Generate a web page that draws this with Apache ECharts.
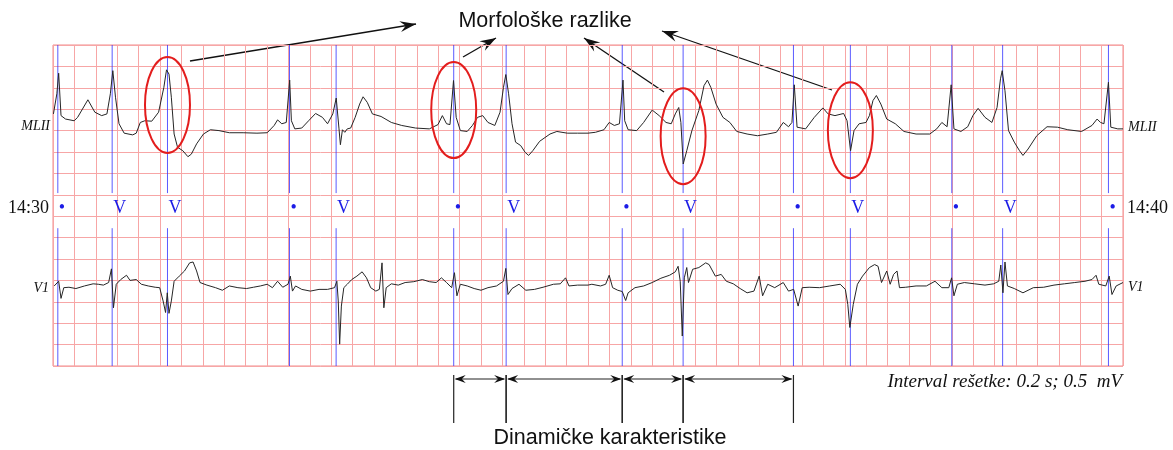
<!DOCTYPE html>
<html lang="hr">
<head>
    <meta charset="UTF-8">
    <title>ekg_morfologija</title>
    <style type="text/css">
        html, body { margin: 0; padding: 0; background: #fff; }
        #box { width: 1173px; height: 450px; }
    </style>
</head>
<body>
<div id="box"></div>
<script type="text/javascript" src="https://cdn.jsdelivr.net/npm/echarts@6/dist/echarts.min.js"></script>
<script type="text/javascript">
    // vrijeme u s, amplituda u mV (odvod MLII)
    let mliiT = [0.004, 0.036, 0.053, 0.075, 0.117, 0.198, 0.230, 0.326, 0.391, 0.455, 0.504, 0.536, 0.559, 0.584, 0.617, 0.665,
        0.745, 0.778, 0.816, 0.858, 0.923, 0.987, 1.036, 1.061, 1.084, 1.106, 1.132, 1.164, 1.213, 1.261, 1.293, 1.342,
        1.406, 1.471, 1.551, 1.648, 1.777, 1.906, 2.002, 2.067, 2.099, 2.138, 2.180, 2.212, 2.228, 2.260, 2.325, 2.389,
        2.454, 2.518, 2.566, 2.615, 2.647, 2.673, 2.686, 2.705, 2.727, 2.750, 2.782, 2.824, 2.866, 2.898, 2.937, 2.985,
        3.066, 3.162, 3.259, 3.388, 3.517, 3.598, 3.639, 3.678, 3.710, 3.743, 3.768, 3.807, 3.871, 3.920, 3.968, 4.016,
        4.065, 4.129, 4.178, 4.210, 4.232, 4.258, 4.290, 4.323, 4.371, 4.413, 4.445, 4.484, 4.548, 4.645, 4.709, 4.806,
        4.903, 5.000, 5.069, 5.149, 5.198, 5.246, 5.294, 5.327, 5.343, 5.375, 5.455, 5.520, 5.600, 5.665, 5.729, 5.778,
        5.816, 5.848, 5.868, 5.890, 5.923, 5.971, 6.036, 6.084, 6.116, 6.148, 6.197, 6.261, 6.326, 6.390, 6.487, 6.584,
        6.680, 6.761, 6.825, 6.874, 6.906, 6.928, 6.954, 7.034, 7.115, 7.195, 7.244, 7.308, 7.389, 7.421, 7.454, 7.486,
        7.534, 7.598, 7.630, 7.663, 7.695, 7.737, 7.792, 7.872, 7.953, 8.066, 8.194, 8.259, 8.307, 8.356, 8.394, 8.420,
        8.485, 8.549, 8.597, 8.646, 8.710, 8.775, 8.823, 8.855, 8.871, 8.897, 8.930, 8.984, 9.033, 9.065, 9.113, 9.194,
        9.290, 9.387, 9.484, 9.613, 9.710, 9.758, 9.790, 9.822, 9.864, 9.886, 9.951, 10.0];
    let mliiV = [0.39, 0.86, 1.34, 0.35, 0.27, 0.23, 0.31, 0.72, 0.43, 0.35, 0.39, 0.86, 1.40, 0.78, 0.16, -0.06,
        -0.10, -0.06, 0.19, 0.23, 0.22, 0.43, 1.01, 1.42, 1.32, 0.78, -0.08, -0.39, -0.47, -0.61, -0.55, -0.31,
        -0.08, 0.02, 0.00, -0.05, -0.05, -0.06, -0.05, 0.12, 0.25, 0.16, 0.19, 1.18, 0.23, 0.04, 0.06, 0.23,
        0.40, 0.31, 0.16, 0.39, 0.76, 0.04, -0.33, 0.02, -0.04, 0.04, 0.06, 0.31, 0.62, 0.79, 0.66, 0.39,
        0.33, 0.19, 0.12, 0.06, 0.04, 0.14, 0.35, 0.16, 0.14, 1.17, 0.31, 0.00, -0.02, 0.12, 0.31, 0.35,
        0.19, 0.12, 0.43, 1.01, 1.31, 0.86, 0.16, -0.27, -0.35, -0.51, -0.58, -0.47, -0.25, -0.08, -0.02, -0.06,
        -0.06, -0.06, -0.04, 0.02, 0.19, 0.12, 0.16, 1.18, 0.23, 0.02, 0.00, 0.19, 0.48, 0.35, 0.19, 0.16,
        0.39, 0.54, 0.19, -0.78, -0.47, 0.00, 0.47, 1.05, 1.18, 1.01, 0.62, 0.31, 0.19, -0.02, -0.08, -0.12,
        -0.08, -0.04, 0.19, 0.09, 0.19, 1.07, 0.08, 0.04, 0.31, 0.53, 0.39, 0.35, 0.40, 0.23, -0.47, 0.00,
        0.16, 0.19, 0.35, 0.70, 0.82, 0.62, 0.27, 0.16, -0.02, -0.08, -0.08, 0.04, 0.19, 0.09, 1.07, 0.04,
        -0.02, 0.09, 0.35, 0.52, 0.31, 0.19, 0.54, 1.21, 1.40, 0.93, 0.00, -0.27, -0.47, -0.58, -0.43, -0.12,
        0.09, 0.08, 0.02, -0.02, 0.12, 0.27, 0.19, 0.16, 1.13, 0.08, 0.04, 0.04];

    // odvod V1
    let v1T = [0.011, 0.053, 0.075, 0.101, 0.149, 0.214, 0.294, 0.375, 0.423, 0.471, 0.520, 0.546, 0.565, 0.591, 0.633, 0.687,
        0.720, 0.778, 0.826, 0.890, 0.955, 0.997, 1.029, 1.052, 1.068, 1.084, 1.106, 1.132, 1.180, 1.229, 1.277, 1.309,
        1.342, 1.374, 1.438, 1.519, 1.583, 1.648, 1.728, 1.809, 1.873, 1.938, 2.002, 2.051, 2.099, 2.147, 2.196, 2.218,
        2.238, 2.267, 2.325, 2.405, 2.486, 2.566, 2.631, 2.653, 2.666, 2.679, 2.695, 2.718, 2.750, 2.792, 2.840, 2.889,
        2.930, 2.969, 3.017, 3.050, 3.075, 3.092, 3.114, 3.162, 3.227, 3.291, 3.372, 3.452, 3.517, 3.581, 3.630, 3.678,
        3.726, 3.752, 3.775, 3.807, 3.871, 3.936, 4.000, 4.065, 4.145, 4.210, 4.232, 4.252, 4.290, 4.355, 4.419, 4.500,
        4.580, 4.677, 4.741, 4.790, 4.822, 4.903, 5.000, 5.036, 5.117, 5.165, 5.198, 5.230, 5.278, 5.320, 5.352, 5.375,
        5.439, 5.520, 5.600, 5.681, 5.762, 5.816, 5.842, 5.862, 5.881, 5.900, 5.923, 5.939, 5.978, 6.036, 6.100, 6.132,
        6.190, 6.245, 6.293, 6.358, 6.422, 6.487, 6.551, 6.600, 6.632, 6.680, 6.745, 6.825, 6.874, 6.922, 6.964, 7.002,
        7.067, 7.163, 7.260, 7.357, 7.405, 7.428, 7.447, 7.479, 7.518, 7.566, 7.630, 7.679, 7.711, 7.743, 7.792, 7.824,
        7.856, 7.888, 7.911, 7.969, 8.066, 8.162, 8.243, 8.307, 8.372, 8.398, 8.420, 8.452, 8.517, 8.613, 8.710, 8.791,
        8.839, 8.858, 8.878, 8.897, 8.920, 8.984, 9.065, 9.162, 9.259, 9.355, 9.452, 9.549, 9.645, 9.710, 9.748, 9.774,
        9.839, 9.871, 9.897, 9.936, 10.0];
    let v1V = [-0.13, -0.02, -0.42, -0.17, -0.16, -0.19, -0.13, -0.08, -0.09, -0.11, -0.05, 0.27, -0.64, -0.09, 0.02, 0.12,
        0.00, 0.02, -0.09, -0.13, -0.16, -0.17, -0.48, -0.75, -0.29, -0.77, -0.48, -0.02, 0.10, 0.22, 0.41, 0.43,
        0.22, -0.05, -0.11, -0.17, -0.23, -0.13, -0.17, -0.19, -0.16, -0.13, -0.09, -0.17, -0.02, -0.16, -0.09, 0.10,
        -0.25, -0.13, -0.21, -0.25, -0.21, -0.21, -0.17, -0.02, -0.48, -1.49, -0.60, -0.17, -0.09, 0.02, 0.10, 0.20,
        0.06, -0.17, -0.25, -0.21, 0.41, -0.64, -0.17, -0.08, -0.11, -0.05, -0.03, 0.02, -0.03, -0.05, 0.06, -0.05,
        -0.17, 0.18, -0.36, -0.09, -0.13, -0.19, -0.23, -0.17, -0.13, -0.02, 0.28, -0.33, -0.19, -0.09, -0.23, -0.21,
        -0.16, -0.09, -0.08, 0.06, -0.13, -0.11, -0.11, -0.09, -0.13, -0.09, 0.12, -0.17, -0.23, -0.26, -0.47, -0.29,
        -0.17, -0.13, -0.05, 0.05, 0.12, 0.20, 0.33, -0.02, -1.30, 0.06, 0.30, -0.05, 0.26, 0.30, 0.41, 0.37,
        0.10, 0.14, -0.02, -0.08, -0.19, -0.29, -0.25, 0.10, -0.36, -0.09, -0.17, -0.05, -0.25, -0.21, -0.60, -0.17,
        -0.16, -0.17, -0.13, -0.09, -0.21, -0.56, -1.10, -0.56, -0.09, 0.10, 0.30, 0.37, 0.33, -0.05, 0.22, -0.09,
        0.14, 0.22, -0.17, -0.16, -0.13, -0.13, -0.02, -0.17, -0.17, 0.06, -0.36, -0.09, -0.05, -0.08, -0.11, -0.08,
        -0.02, 0.36, -0.29, 0.43, -0.13, -0.19, -0.29, -0.17, -0.16, -0.11, -0.08, -0.05, -0.02, 0.02, 0.12, -0.09,
        -0.13, 0.10, -0.33, -0.13, -0.05];

    // anotacije otkucaja
    let beatTimes = [0.045, 0.553, 1.07, 2.21, 2.646, 3.745, 4.235, 5.32, 5.889, 6.92, 7.452, 8.40, 8.875, 9.864];
    let beatLabels = ['•', 'V', 'V', '•', 'V', '•', 'V', '•', 'V', '•', 'V', '•', 'V', '•'];
    let morphBeats = [1.07, 3.745, 5.889, 7.452];
    let dynBeats = [3.745, 4.235, 5.32, 5.889, 6.92];

    let mliiBase = 5.5, v1Base = 2.0;
    let morphLevel = [6.10, 5.98, 5.37, 5.51];

    function head(tx, ty, fx, fy, len, w) {
        let dx = tx - fx, dy = ty - fy;
        let d = Math.sqrt(dx * dx + dy * dy);
        dx /= d; dy /= d;
        let bx = tx - dx * len, by = ty - dy * len;
        let nx = tx - dx * len * 0.65, ny = ty - dy * len * 0.65;
        return [[tx, ty], [bx - dy * w / 2, by + dx * w / 2], [nx, ny], [bx + dy * w / 2, by - dx * w / 2]];
    }

    function arrow(x1, y1, x2, y2) {
        return [
            {type: 'line', shape: {x1: x1, y1: y1, x2: x2, y2: y2}, style: {stroke: '#111', lineWidth: 1.3}},
            {type: 'polygon', shape: {points: head(x2, y2, x1, y1, 16, 11)}, style: {fill: '#111'}}
        ];
    }

    function txt(x, y, s, font, align) {
        return {
            type: 'text', x: x, y: y,
            style: {text: s, font: font, fill: '#111', textAlign: align, align: align,
                textVerticalAlign: 'middle', verticalAlign: 'middle'}
        };
    }

    let myChart = echarts.init(document.getElementById('box'));
    let option = {
        animation: false,
        backgroundColor: '#fff',
        grid: {left: 53, right: 50, top: 45, bottom: 84, show: true, borderColor: '#f08a8a', borderWidth: 1},
        xAxis: {
            type: 'value', min: 0, max: 10, interval: 0.2,
            axisLabel: {show: false}, axisTick: {show: false}, axisLine: {show: false},
            splitLine: {lineStyle: {color: '#f7a6a6', width: 1}}
        },
        yAxis: {
            type: 'value', min: 0, max: 7.5, interval: 0.5,
            axisLabel: {show: false}, axisTick: {show: false}, axisLine: {show: false},
            splitLine: {lineStyle: {color: '#f7a6a6', width: 1}}
        },
        graphic: [].concat(
            arrow(190, 61, 416, 24),
            arrow(463, 57, 496, 38),
            arrow(664, 92, 584, 38),
            arrow(832, 90, 662, 31),
            [
                txt(545, 21, 'Morfološke razlike', '21.5px "Liberation Sans"', 'center'),
                txt(610, 438, 'Dinamičke karakteristike', '21.5px "Liberation Sans"', 'center'),
                txt(49, 208, '14:30', '18px "Liberation Serif"', 'right'),
                txt(1127, 208, '14:40', '18px "Liberation Serif"', 'left'),
                txt(50, 126, 'MLII', 'italic 14px "Liberation Serif"', 'right'),
                txt(1128, 127, 'MLII', 'italic 14px "Liberation Serif"', 'left'),
                txt(49, 288, 'V1', 'italic 14px "Liberation Serif"', 'right'),
                txt(1128, 287, 'V1', 'italic 14px "Liberation Serif"', 'left'),
                txt(1122, 382, 'Interval rešetke: 0.2 s; 0.5  mV', 'italic 19px "Liberation Serif"', 'right')
            ]
        ),
        series: [
            {
                type: 'custom',
                z: 2,
                data: beatTimes.map(function (t, i) { return [t, i]; }),
                renderItem: function (params, api) {
                    let t = api.value(0);
                    let a = api.coord([t, 7.5]), b = api.coord([t, 4.04]);
                    let c = api.coord([t, 3.22]), d = api.coord([t, 0]);
                    let m = api.coord([t, 3.69]);
                    let ls = {stroke: 'rgba(50,50,255,0.8)', lineWidth: 1};
                    return {
                        type: 'group', children: [
                            {type: 'line', shape: {x1: a[0], y1: a[1], x2: b[0], y2: b[1]}, style: ls},
                            {type: 'line', shape: {x1: c[0], y1: c[1], x2: d[0], y2: d[1]}, style: ls},
                            {
                                type: 'text', x: m[0] + 1, y: m[1],
                                style: {
                                    text: beatLabels[params.dataIndex], font: '18px "Liberation Serif"', fill: '#1c1ce6',
                                    textAlign: 'left', align: 'left', textVerticalAlign: 'middle', verticalAlign: 'middle'
                                }
                            }
                        ]
                    };
                }
            },
            {
                name: 'MLII', type: 'line', z: 5, symbol: 'none',
                lineStyle: {color: '#262626', width: 1},
                data: mliiT.map(function (t, i) { return [t, mliiV[i] + mliiBase]; })
            },
            {
                name: 'V1', type: 'line', z: 5, symbol: 'none',
                lineStyle: {color: '#262626', width: 1},
                data: v1T.map(function (t, i) { return [t, v1V[i] + v1Base]; })
            },
            {
                // morfološke razlike - elipse
                type: 'custom', z: 6,
                data: morphBeats.map(function (t, i) { return [t, morphLevel[i]]; }),
                renderItem: function (params, api) {
                    let p = api.coord([api.value(0), api.value(1)]);
                    return {
                        type: 'ellipse',
                        shape: {cx: p[0], cy: p[1], rx: 22.5, ry: 48},
                        style: {fill: 'none', stroke: '#e31d1d', lineWidth: 2}
                    };
                }
            },
            {
                // dinamičke karakteristike - RR intervali
                type: 'custom', z: 6, clip: false,
                data: dynBeats.slice(0, -1).map(function (t, i) { return [t, dynBeats[i + 1]]; }),
                renderItem: function (params, api) {
                    let p1 = api.coord([api.value(0), 0]), p2 = api.coord([api.value(1), 0]);
                    let y = p1[1] + 13;
                    let ts = {stroke: '#222', lineWidth: 1.2};
                    return {
                        type: 'group', children: [
                            {type: 'line', shape: {x1: p1[0], y1: p1[1] + 9, x2: p1[0], y2: p1[1] + 57}, style: ts},
                            {type: 'line', shape: {x1: p2[0], y1: p2[1] + 9, x2: p2[0], y2: p2[1] + 57}, style: ts},
                            {type: 'line', shape: {x1: p1[0] + 2, y1: y, x2: p2[0] - 2, y2: y}, style: ts},
                            {type: 'polygon', shape: {points: head(p1[0] + 1, y, p2[0], y, 11, 8)}, style: {fill: '#111'}},
                            {type: 'polygon', shape: {points: head(p2[0] - 1, y, p1[0], y, 11, 8)}, style: {fill: '#111'}}
                        ]
                    };
                }
            }
        ]
    };
    myChart.setOption(option);
</script>
</body>
</html>
